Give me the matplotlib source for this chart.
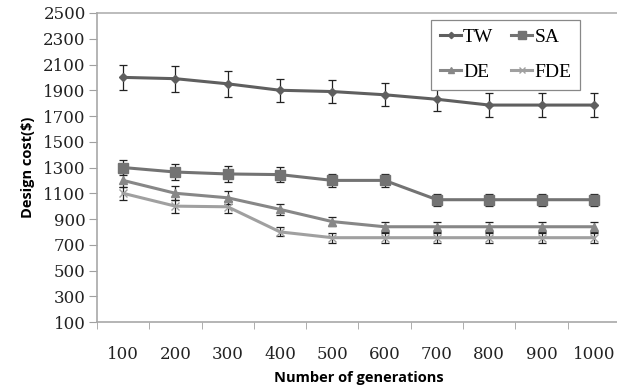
import matplotlib.pyplot as plt
from matplotlib.lines import Line2D
import numpy as np

# data
generations = ['100', '200', '300', '400', '500', '600', '700', '800', '900', '1000']
tw = [2000, 1990, 1950, 1900, 1890, 1865, 1830, 1785, 1785, 1785]
sa = [1300, 1265, 1250, 1245, 1200, 1200, 1050, 1050, 1050, 1050]
de = [1200, 1100, 1065, 975, 880, 840, 840, 840, 840, 840]
fde = [1100, 1000, 995, 800, 755, 755, 755, 755, 755, 755]
tw_err = [100, 100, 100, 90, 90, 90, 90, 90, 90, 90]
sa_err = [60, 65, 60, 60, 50, 50, 45, 45, 45, 45]
de_err = [55, 55, 50, 45, 35, 40, 40, 40, 40, 40]
fde_err = [50, 50, 45, 35, 40, 40, 40, 40, 40, 40]

fig = plt.figure(figsize=(6.17, 3.88), dpi=100)
ax = fig.add_axes([0.157, 0.170, 0.848, 0.7965])

x = np.arange(len(generations))
series = [
    ('TW', tw, tw_err, 'D', 4, '#5f5f5f'),
    ('SA', sa, sa_err, 's', 7, '#737373'),
    ('DE', de, de_err, '^', 6, '#878787'),
    ('FDE', fde, fde_err, 'x', 6, '#a0a0a0'),
]
handles = {}
for name, vals, errs, mk, ms, col in series:
    ax.errorbar(x, vals, yerr=errs, color=col, lw=2.2, marker=mk, markersize=ms,
                ecolor='#222222', elinewidth=0.9, capsize=3, capthick=0.9)
    handles[name] = Line2D([], [], color=col, lw=2.2, marker=mk, markersize=ms * 0.8)

ax.set_xlim(-0.5, 9.5)
ax.set_ylim(100, 2500)
ax.set_yticks(range(100, 2501, 200))
ax.axhline(2500, color='#b0b0b0', lw=1.2, clip_on=False)

ax.set_xticks(x)
ax.set_xticklabels(generations)
ax.set_xticks(np.arange(-0.5, 10, 1), minor=True)
ax.tick_params(axis='x', which='major', length=0, pad=17)
ax.tick_params(axis='x', which='minor', length=5, color='#a0a0a0', direction='out')
ax.tick_params(axis='y', length=6, color='#a0a0a0', pad=2)
for lab in ax.get_xticklabels() + ax.get_yticklabels():
    lab.set_family('DejaVu Serif')
    lab.set_fontsize(12)
    lab.set_color('#222222')

for s in ['top', 'right']:
    ax.spines[s].set_visible(False)
for s in ['left', 'bottom']:
    ax.spines[s].set_color('#a8a8a8')
    ax.spines[s].set_linewidth(1.2)

ax.set_ylabel('Design cost($)', family='Open Sans', fontweight='bold', fontsize=10.5, labelpad=6)
ax.set_xlabel('Number of generations', family='Open Sans', fontweight='bold', fontsize=10.5, labelpad=6)

# column-wise fill: TW/DE in first column, SA/FDE in second
order = ['TW', 'DE', 'SA', 'FDE']
leg = ax.legend([handles[k] for k in order], order, ncol=2, loc='upper right',
                bbox_to_anchor=(0.942, 1.01),
                prop={'family': 'Liberation Serif', 'size': 14}, fancybox=False,
                handlelength=1.1, handletextpad=0.1, columnspacing=0.9,
                labelspacing=0.9, borderpad=0.45, framealpha=1)
leg.get_frame().set_edgecolor('#888888')
leg.get_frame().set_linewidth(0.9)

fig.savefig('out.png', dpi=100)
